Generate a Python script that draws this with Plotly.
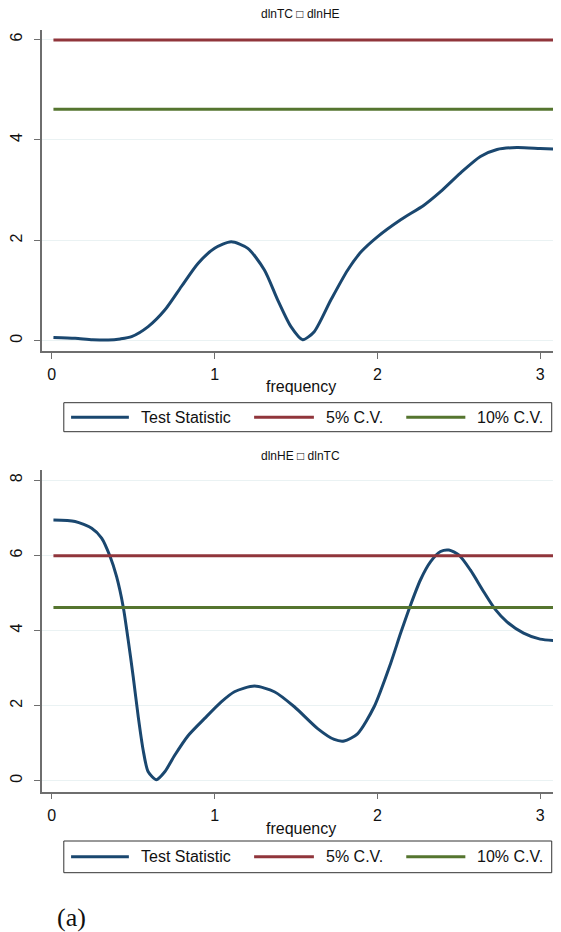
import plotly.graph_objects as go

# ---- data ----
freq_top = [0.01, 0.143, 0.25, 0.347, 0.42, 0.49, 0.592, 0.694, 0.796, 0.898, 1.0,
            1.102, 1.204, 1.306, 1.388, 1.469, 1.541, 1.612, 1.714, 1.816, 1.9,
            2.0, 2.143, 2.286, 2.388, 2.51, 2.633, 2.735, 2.857, 3.0, 3.13]
stat_top = [0.066, 0.047, 0.02, 0.013, 0.035, 0.08, 0.28, 0.61, 1.08, 1.54, 1.84,
            1.97, 1.84, 1.41, 0.81, 0.28, 0.02, 0.18, 0.81, 1.40, 1.77,
            2.07, 2.41, 2.70, 2.97, 3.34, 3.67, 3.81, 3.85, 3.83, 3.81]

freq_bot = [0.01, 0.143, 0.245, 0.306, 0.357, 0.398, 0.439, 0.469, 0.5, 0.531, 0.561,
            0.592, 0.643, 0.694, 0.755, 0.837, 0.939, 1.041, 1.122, 1.245, 1.367,
            1.49, 1.633, 1.735, 1.796, 1.878, 1.98, 2.082, 2.143, 2.204, 2.265, 2.327,
            2.388, 2.439, 2.5, 2.571, 2.653, 2.724, 2.796, 2.898, 3.0, 3.13]
stat_bot = [6.94, 6.90, 6.72, 6.46, 5.98, 5.43, 4.62, 3.75, 2.77, 1.70, 0.82,
            0.24, 0.03, 0.24, 0.68, 1.20, 1.66, 2.10, 2.37, 2.52, 2.37,
            1.97, 1.39, 1.10, 1.06, 1.25, 1.97, 3.13, 3.93, 4.68, 5.35, 5.83,
            6.10, 6.14, 6.01, 5.61, 5.03, 4.56, 4.23, 3.93, 3.77, 3.72]

cv5 = 5.99
cv10 = 4.61
titles = ["dlnTC \u25a1 dlnHE", "dlnHE \u25a1 dlnTC"]
legend_labels = ["Test Statistic", "5% C.V.", "10% C.V."]
x_ticks = [0, 1, 2, 3]
y_ticks_top = [0, 2, 4, 6]
y_ticks_bot = [0, 2, 4, 6, 8]

BLUE = "#1a476f"
RED = "#90353b"
GREEN = "#55752f"
OFF = 8  # default page margin of the html body
W, H = 561 - OFF, 932 - OFF
FONT = "Liberation Sans, Arial, sans-serif"

fig = go.Figure()
panels = [("x", "y", freq_top, stat_top), ("x2", "y2", freq_bot, stat_bot)]
for i, (xa, ya, fx, sy) in enumerate(panels):
    fig.add_trace(go.Scatter(x=fx, y=sy, mode="lines", xaxis=xa, yaxis=ya,
                             line=dict(color=BLUE, width=3, shape="spline", smoothing=0.7),
                             showlegend=False))
    fig.add_trace(go.Scatter(x=[fx[0], fx[-1]], y=[cv5, cv5], mode="lines", xaxis=xa, yaxis=ya,
                             line=dict(color=RED, width=3), showlegend=False))
    fig.add_trace(go.Scatter(x=[fx[0], fx[-1]], y=[cv10, cv10], mode="lines", xaxis=xa, yaxis=ya,
                             line=dict(color=GREEN, width=3), showlegend=False))


def py(p):
    return 1 - (p - OFF) / H


def px(p):
    return (p - OFF) / W


xcommon = dict(range=[-0.061, 3.128], tickvals=x_ticks, showgrid=False, zeroline=False,
               showline=True, linecolor="#6e6e6e", linewidth=1.5, ticks="outside",
               ticklen=6, tickcolor="#6e6e6e", tickwidth=1, ticklabelstandoff=2,
               tickfont=dict(family=FONT, size=16, color="#111"))
ycommon = dict(showgrid=True, gridcolor="#eaf2f3", gridwidth=1, zeroline=False,
               showline=True, linecolor="#6e6e6e", linewidth=1.5, ticks="outside",
               ticklen=6, tickcolor="#6e6e6e", tickwidth=1, tickangle=-90,
               ticklabelstandoff=6,
               tickfont=dict(family=FONT, size=16, color="#111"))

fig.update_layout(
    width=W, height=H, margin=dict(l=0, r=0, t=0, b=0),
    paper_bgcolor="white", plot_bgcolor="white", showlegend=False,
    xaxis=dict(domain=[px(40), 1.0], anchor="y", **xcommon),
    yaxis=dict(domain=[py(351), py(30)], anchor="x", range=[-0.205, 6.19],
               tickvals=y_ticks_top, **ycommon),
    xaxis2=dict(domain=[px(40), 1.0], anchor="y2", **xcommon),
    yaxis2=dict(domain=[py(791.7), py(470)], anchor="x2", range=[-0.29, 8.27],
                tickvals=y_ticks_bot, **ycommon),
)

annotations = []
shapes = []
for title, ty, fy in [(titles[0], 14, 386), (titles[1], 456, 828)]:
    annotations.append(dict(text=title, x=px(300), y=py(ty), xref="paper", yref="paper",
                            showarrow=False, xanchor="center", yanchor="middle",
                            font=dict(family=FONT, size=12, color="#111")))
    annotations.append(dict(text="frequency", x=px(300), y=py(fy), xref="paper", yref="paper",
                            showarrow=False, xanchor="center", yanchor="middle",
                            font=dict(family=FONT, size=16, color="#111")))

colors = [BLUE, RED, GREEN]
sample_x = [(69.3, 127.3), (253, 313), (405.7, 465)]
text_x = [137.3, 322.7, 475]
for (top, bot) in [(402.7, 431.7), (841, 872.7)]:
    shapes.append(dict(type="rect", xref="paper", yref="paper", x0=px(62), x1=px(551.7),
                       y0=py(bot), y1=py(top), line=dict(color="#333", width=1)))
    cy = (top + bot) / 2
    for c, (sx0, sx1), tx, lab in zip(colors, sample_x, text_x, legend_labels):
        shapes.append(dict(type="line", xref="paper", yref="paper", x0=px(sx0), x1=px(sx1),
                           y0=py(cy), y1=py(cy), line=dict(color=c, width=3)))
        annotations.append(dict(text=lab, x=px(tx), y=py(cy), xref="paper", yref="paper",
                                showarrow=False, xanchor="left", yanchor="middle",
                                font=dict(family=FONT, size=16, color="#111")))

annotations.append(dict(text="(a)", x=px(70), y=py(917), xref="paper", yref="paper",
                        showarrow=False, xanchor="center", yanchor="middle",
                        font=dict(family="Liberation Serif, Times New Roman, serif", size=26,
                                  color="#111")))

fig.update_layout(annotations=annotations, shapes=shapes)
fig.write_html("out.html")
